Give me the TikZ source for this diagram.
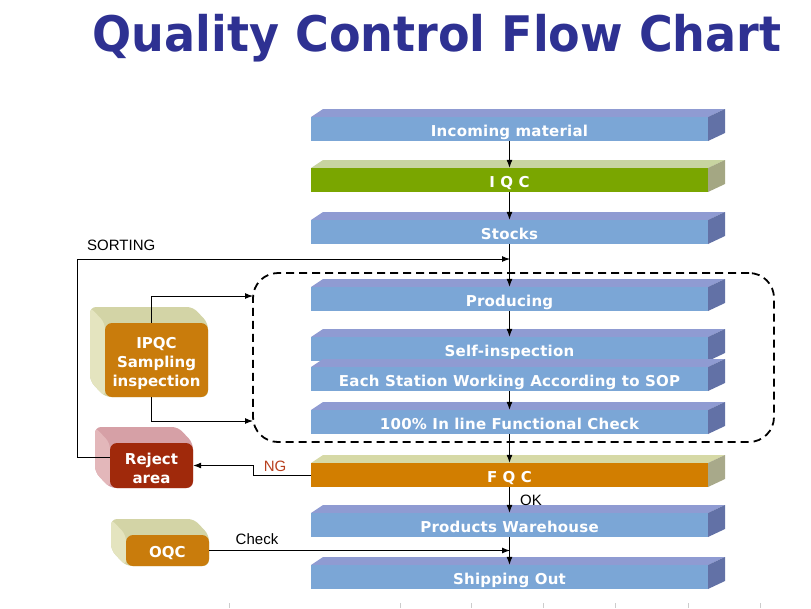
\documentclass[tikz,border=0pt]{standalone}
\usepackage{fontspec}
\usepackage{graphicx}
\setmainfont{DejaVu Sans}
\newfontfamily\barfont[LetterSpace=1.5]{DejaVu Sans}
\newfontfamily\labfont{Liberation Sans}
\usetikzlibrary{arrows.meta}
\definecolor{bfront}{HTML}{7BA6D6}
\definecolor{btop}{HTML}{8F9BD2}
\definecolor{bside}{HTML}{6271A6}
\definecolor{gfront}{HTML}{7AA600}
\definecolor{gtop}{HTML}{C8D4A0}
\definecolor{gside}{HTML}{A4A783}
\definecolor{ofront}{HTML}{D27E00}
\definecolor{otop}{HTML}{D6D9A6}
\definecolor{oside}{HTML}{A8A98A}
\definecolor{boxor}{HTML}{C97C0C}
\definecolor{pale}{HTML}{D3D4A6}
\definecolor{paleL}{HTML}{E4E4BF}
\definecolor{rejred}{HTML}{A0290B}
\definecolor{pink}{HTML}{D6A0A6}
\definecolor{pinkL}{HTML}{E3B7BA}
\definecolor{titleblue}{HTML}{2E3192}
\definecolor{ngred}{HTML}{B8401E}
\newcommand\qcbar[6]{%
  \fill[#4] (311,#2) -- (323,#2-8) -- (725,#2-8) -- (708,#2) -- cycle;
  \fill[#5] (708,#2) -- (725,#2-8) -- (725,#2+16) -- (708,#2+24) -- cycle;
  \node[barnode,fill=#3] (#1) at (509.5,#2+12) {#6};}
\newcommand\qcbox[9]{%
  \fill[#7,rounded corners=6pt] (#2-15,#3-16) -- (#4-15,#3-16) -- (#4,#3) -- (#4,#5) -- (#2,#5) -- (#2-15,#5-16) -- cycle;
  \fill[#8,rounded corners=6pt] (#2-15,#3-16) -- (#2,#3) -- (#2,#5) -- (#2-15,#5-16) -- cycle;
  \node[boxnode,fill=#6,minimum width={#4-#2},minimum height={#5-#3}] (#1) at ({(#2+#4)/2},{(#3+#5)/2}) {};
  \node[boxtext] (#1-t) at ({(#2+#4)/2},{(#3+#5)/2+3}) {#9};}
\begin{document}
\begin{tikzpicture}[x=1pt,y=-1pt,
  barnode/.style={minimum width=397pt,minimum height=24pt,inner sep=0pt,text=white,
    text height=15pt,text depth=0pt,
    font=\barfont\fontsize{15}{18}\selectfont\bfseries},
  boxnode/.style={rounded corners=7pt,inner sep=0pt},
  boxtext/.style={inner sep=0pt,text=white,align=center,
    font=\fontsize{15}{19}\selectfont\bfseries},
  arr/.style={line width=1pt,-{Latex[length=8pt,width=6pt]}},
  lab/.style={font=\labfont\fontsize{15}{17}\selectfont,inner sep=0pt},
  tick/.style={draw=black!20,line width=0.8pt}]
\useasboundingbox (0,0) rectangle (811,608);
% title
\node[text=titleblue,font=\fontsize{49}{52}\selectfont\bfseries,inner sep=0pt,anchor=base] (title) at (437,51)
  {\scalebox{0.94}[1]{Quality Control Flow Chart}};
% dashed group
\node[draw,dashed,line width=1.8pt,dash pattern=on 8pt off 5pt,rounded corners=25pt,
  minimum width=521pt,minimum height=169pt,inner sep=0pt] (group) at (513.5,357.5) {};
% bars
\qcbar{inc}{117}{bfront}{btop}{bside}{Incoming material}
\qcbar{iqc}{168}{gfront}{gtop}{gside}{I Q C}
\qcbar{stk}{220}{bfront}{btop}{bside}{Stocks}
\qcbar{prod}{287}{bfront}{btop}{bside}{Producing}
\qcbar{self}{337}{bfront}{btop}{bside}{Self-inspection}
\qcbar{each}{367}{bfront}{btop}{bside}{Each Station Working According to SOP}
\qcbar{full}{410}{bfront}{btop}{bside}{100\% In line Functional Check}
\qcbar{fqc}{463}{ofront}{otop}{oside}{F Q C}
\qcbar{pw}{513}{bfront}{btop}{bside}{Products Warehouse}
\qcbar{ship}{565}{bfront}{btop}{bside}{Shipping Out}
% side boxes
\qcbox{ipqc}{105}{323}{208}{397}{boxor}{pale}{paleL}{IPQC\\Sampling\\inspection}
\qcbox{rej}{110}{443}{193}{488}{rejred}{pink}{pinkL}{Reject\\area}
\qcbox{oqc}{126}{535}{209}{566}{boxor}{pale}{paleL}{OQC}
% coordinates
\coordinate (sortin) at (510,259);
\coordinate (gin1) at (253,296);
\coordinate (gin2) at (253,421);
\coordinate (chkin) at (510,552);
\coordinate (sortc) at (77,457);
% main flow
\draw[arr] (inc.south) -- (iqc.north);
\draw[arr] (iqc.south) -- (stk.north);
\draw[arr] (stk.south) -- (prod.north);
\draw[arr] (prod.south) -- (self.north);
\draw[arr] (each.south) -- (full.north);
\draw[arr] (full.south) -- (fqc.north);
\draw[arr] (fqc.south) -- (pw.north);
\draw[arr] (pw.south) -- (ship.north);
% side connectors
\draw[arr] ([yshift=8.5pt]rej.west) -- (sortc) |- (sortin);
\draw[arr] ([xshift=-5.5pt]ipqc.north) |- (gin1);
\draw[arr] ([xshift=-5.5pt]ipqc.south) |- (gin2);
\draw[arr] (fqc.west) -- (253,475) |- (rej.east);
\draw[arr] (oqc.east) -- (oqc.east -| chkin);
% labels
\node[lab,anchor=west] (lsort) at (87,245) {SORTING};
\node[lab,text=ngred] (lng) at (275,466) {NG};
\node[lab] (lok) at (531,500) {OK};
\node[lab] (lchk) at (257,539) {Check};
% ticks
\foreach \tx in {229,400,471,543,615,688,760}
  \draw[tick] (\tx,603) -- (\tx,608);
\end{tikzpicture}
\end{document}
